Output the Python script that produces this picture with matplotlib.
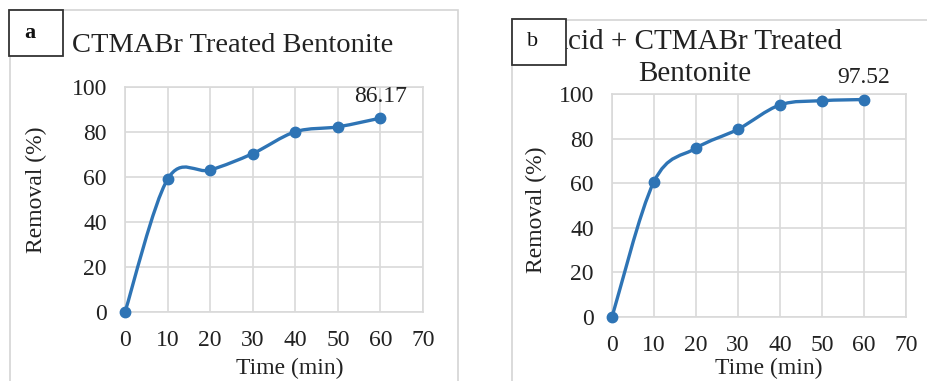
import numpy as np
import matplotlib.pyplot as plt
from matplotlib.path import Path
from matplotlib.patches import PathPatch, Rectangle

time_min = [0, 10, 20, 30, 40, 50, 60]
removal_a = [0, 59.0, 63.1, 70.4, 80.1, 82.3, 86.17]
removal_b = [0, 60.7, 75.7, 84.2, 95.1, 97.0, 97.52]
title_a = "CTMABr Treated Bentonite"
title_b = "Acid + CTMABr Treated\nBentonite"
x_ticks = [0, 10, 20, 30, 40, 50, 60, 70]
y_ticks = [0, 20, 40, 60, 80, 100]

LINE = "#2E74B5"
GRID = "#D9D9D9"
W, H = 928, 381

plt.rcParams["font.family"] = ["Liberation Serif", "DejaVu Serif"]


def smooth_path(x, y):
    # Excel-style smoothed line: Catmull-Rom segments as cubic Beziers
    p = np.column_stack([x, y]).astype(float)
    ext = np.vstack([p[0], p, p[-1]])
    verts = [p[0]]
    codes = [Path.MOVETO]
    for i in range(len(p) - 1):
        p0, p1, p2, p3 = ext[i], ext[i + 1], ext[i + 2], ext[i + 3]
        verts += [p1 + (p2 - p0) / 6, p2 - (p3 - p1) / 6, p2]
        codes += [Path.CURVE4] * 3
    return Path(verts, codes)


def fx(px):
    return px / W


def fy(py):
    return 1 - py / H


def draw_panel(fig, rect, x, y, last_label, label_xy):
    ax = fig.add_axes(rect)
    ax.set_xlim(0, 70)
    ax.set_ylim(0, 100)
    ax.set_xticks(x_ticks)
    ax.set_yticks(y_ticks)
    ax.grid(True, color=GRID, lw=1.2)
    ax.set_axisbelow(True)
    for s in ax.spines.values():
        s.set_color(GRID)
        s.set_linewidth(1.2)
    ax.tick_params(length=0, labelsize=17, pad=13, colors="#222222")
    ax.add_patch(PathPatch(smooth_path(x, y), fill=False, edgecolor=LINE,
                           lw=2.4, clip_on=False, zorder=3))
    ax.plot(x, y, "o", color=LINE, ms=7.5, clip_on=False, zorder=4)
    ax.annotate(last_label, xy=(x[-1], y[-1]), xytext=label_xy,
                textcoords="offset points", ha="center", va="bottom",
                fontsize=17, color="#222222")
    return ax


fig = plt.figure(figsize=(W / 100, H / 100), dpi=100)

# panel frames
fig.patches.append(Rectangle((fx(10), fy(395)), fx(448), 385 / H, transform=fig.transFigure,
                             fill=False, edgecolor="#D4D4D4", lw=1.2))
fig.patches.append(Rectangle((fx(512), fy(395)), fx(430), 375 / H, transform=fig.transFigure,
                             fill=False, edgecolor="#D4D4D4", lw=1.2))

draw_panel(fig, [fx(125), fy(312), fx(298), 225 / H], time_min, removal_a, "86.17", (0, 8))
draw_panel(fig, [fx(612), fy(317), fx(294), 223 / H], time_min, removal_b, "97.52", (0, 8))

fig.text(fx(233), fy(45), title_a, ha="center", va="center", fontsize=20.5, color="#222222")
fig.text(fx(695), fy(58), title_b, ha="center", va="center", fontsize=21,
         color="#222222", linespacing=1.3)

fig.text(fx(36), fy(190), "Removal (%)", rotation=90, ha="center", va="center",
         fontsize=17, color="#222222")
fig.text(fx(536), fy(210), "Removal (%)", rotation=90, ha="center", va="center",
         fontsize=17, color="#222222")
fig.text(fx(290), fy(368), "Time (min)", ha="center", va="center", fontsize=17, color="#222222")
fig.text(fx(769), fy(368), "Time (min)", ha="center", va="center", fontsize=17, color="#222222")

# letter boxes
for (x0, y0, letter, weight) in [(9, 10, "a", "bold"), (512, 19, "b", "normal")]:
    fig.patches.append(Rectangle((fx(x0), fy(y0 + 46)), fx(54), 46 / H,
                                 transform=fig.transFigure, facecolor="white",
                                 edgecolor="#333333", lw=1.3, zorder=5))
    fig.text(fx(x0 + 21), fy(y0 + 23), letter, ha="center", va="center",
             fontsize=16, weight=weight, color="#111111", zorder=6)

fig.savefig("out.png", dpi=100)
